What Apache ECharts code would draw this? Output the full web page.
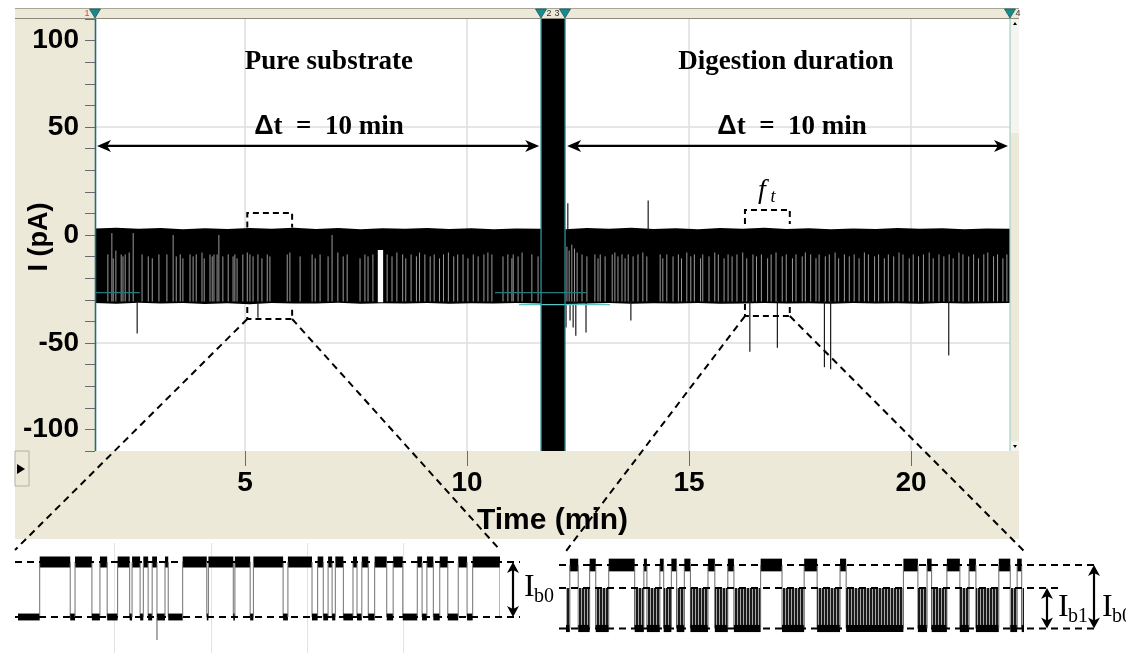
<!DOCTYPE html>
<html>
<head>
<meta charset="utf-8">
<title>Current trace before and during digestion</title>
<script src="https://cdn.jsdelivr.net/npm/echarts@6/dist/echarts.min.js"></script>
<style>
  html, body { margin: 0; padding: 0; background: #ffffff; }
  #chart { width: 1126px; height: 653px; }
</style>
</head>
<body>
<div id="chart"></div>
<script>
// ---------------- recording data ----------------
const timeRange = [1.62, 22.23];                 // min
const yStep = 200 / 18;                          // pA per minor tick
const yTickLabels = [[9, '100'], [5, '50'], [0, '0'], [-5, '-50'], [-9, '-100']];
const xMinorTicks = [2, 3, 4, 5, 6, 7, 8, 9, 10, 11, 12, 13, 14, 15, 16, 17, 18, 19, 20, 21, 22];
const xLabelTicks = [5, 10, 15, 20];

const cursorTimes = [1.62, 11.67, 12.21, 22.23];
const cursorNames = ['1', '2', '3', '4'];
const cursorColors = ['#1f6e72', '#2b8f94', '#2b8f94', '#9fd4d6'];

// current envelope [time, upper edge, lower edge] (pA)
const substrateEnvelope = [
  [1.62, 3.3, -35.0], [2.1, 3.7, -35.4], [2.6, 3.2, -34.8], [3.1, 3.6, -35.3], [3.6, 3.0, -35.0],
  [4.1, 3.5, -35.5], [4.6, 3.1, -35.1], [5.1, 3.6, -35.6], [5.6, 3.2, -35.0], [6.1, 3.7, -35.3],
  [6.6, 3.1, -35.2], [7.1, 3.6, -34.9], [7.6, 3.0, -35.4], [8.1, 3.5, -35.1], [8.6, 3.2, -35.3],
  [9.1, 3.6, -35.0], [9.6, 3.1, -35.4], [10.1, 3.5, -35.1], [10.6, 3.0, -35.3], [11.1, 3.4, -35.0],
  [11.67, 3.2, -35.2]
];
const digestionEnvelope = [
  [12.21, 3.0, -35.5], [12.7, 3.6, -35.2], [13.2, 3.2, -35.0], [13.7, 3.7, -35.4], [14.2, 3.1, -35.1],
  [14.7, 3.5, -35.3], [15.2, 3.0, -35.0], [15.7, 3.6, -35.4], [16.2, 3.2, -35.2], [16.7, 3.7, -35.0],
  [17.2, 3.1, -35.3], [17.7, 3.5, -35.1], [18.2, 3.0, -35.4], [18.7, 3.4, -35.0], [19.2, 3.1, -35.3],
  [19.7, 3.6, -35.1], [20.2, 3.2, -35.4], [20.7, 3.5, -35.0], [21.2, 3.0, -35.3], [21.7, 3.4, -35.1],
  [22.23, 3.2, -35.0]
];

// solution exchange, amplifier saturated
const exchangeWindow = [11.67, 12.21];
const exchangeSwing = [-400, 400];

// returns to the open level inside the blocked band [time, upper end]
const substrateOpenings = [
  [1.91, -10], [2.00, 1], [2.03, -12], [2.09, -8], [2.21, -10], [2.25, -11], [2.30, -10], [2.39, -9],
  [2.48, 1], [2.68, -10], [2.82, -11], [2.91, -12], [3.06, -10], [3.24, -10], [3.38, 0],
  [3.45, -11], [3.54, -10], [3.60, -12], [3.76, -10], [3.83, -11], [3.90, -10], [4.03, -9],
  [4.08, -12], [4.21, -10], [4.26, -11], [4.30, -10], [4.37, -10], [4.41, 0], [4.50, -11],
  [4.62, -10], [4.73, -11], [4.77, -10], [4.82, -12], [4.95, -10], [5.05, -9], [5.11, -10],
  [5.18, -11], [5.29, -10], [5.38, -12], [5.50, -10], [5.56, -11], [5.95, -10], [6.01, -9],
  [6.24, -11], [6.51, -10], [6.58, -12], [6.69, -10], [6.87, -11], [6.96, 0], [7.09, -9],
  [7.21, -11], [7.30, -10], [7.59, -12], [7.70, -10], [7.77, -11], [7.88, -10], [8.20, -10],
  [8.31, -11], [8.42, -9], [8.55, -10], [8.62, -12], [8.74, -10], [8.86, -11], [8.93, -9],
  [9.05, -10], [9.17, -11], [9.26, -10], [9.38, -12], [9.47, -10], [9.58, -9], [9.70, -11],
  [9.79, -10], [9.91, -10], [10.02, -12], [10.14, -10], [10.25, -11], [10.38, -10], [10.47, -9],
  [10.56, -10], [10.81, -11], [10.92, -10], [11.01, -12],
  [11.04, -10], [11.15, -11], [11.24, -9], [11.46, -10], [11.60, -11]
];
const digestionOpenings = [
  [12.25, -6], [12.30, -8], [12.36, -5], [12.42, -7], [12.48, -9], [12.59, -10], [12.70, -11],
  [12.88, -10], [12.95, -12], [13.00, -10], [13.11, -11], [13.27, -10], [13.33, -9],
  [13.40, -11], [13.49, -10], [13.56, -12], [13.63, -10], [13.74, -11], [13.85, -10],
  [13.96, -9], [14.05, -11], [14.35, -10], [14.41, -12], [14.50, -10], [14.64, -11],
  [14.76, -10], [14.83, -12], [14.95, -9], [15.04, -11], [15.12, -10], [15.26, -12], [15.31, -10],
  [15.45, -11], [15.58, -9], [15.66, -10], [15.79, -12], [15.88, -10], [15.97, -11], [16.08, -10],
  [16.21, -9], [16.30, -12], [16.44, -10], [16.52, -11], [16.63, -10], [16.77, -12], [16.85, -10],
  [16.96, -9], [17.10, -11], [17.19, -10], [17.33, -12], [17.41, -10], [17.55, -11], [17.62, -9],
  [17.74, -10], [17.86, -12], [17.93, -10], [18.07, -11], [18.16, -10], [18.29, -9], [18.37, -12],
  [18.50, -10], [18.61, -11], [18.72, -10], [18.83, -12], [18.95, -9], [19.04, -10], [19.18, -11],
  [19.27, -10], [19.40, -12], [19.49, -10], [19.61, -11], [19.73, -9], [19.82, -10], [19.96, -12],
  [20.05, -10], [20.17, -11], [20.28, -10], [20.41, -9], [20.50, -12], [20.63, -10], [20.74, -11],
  [20.86, -10], [20.95, -12], [21.08, -9], [21.17, -10], [21.30, -11], [21.41, -10], [21.52, -12],
  [21.64, -10], [21.73, -9], [21.86, -11], [21.95, -10], [22.07, -12], [22.16, -10]
];
// long open dwell [from, to, lowest excursion]
const substrateOpenDwells = [[7.99, 8.11, -7.7]];

// isolated excursions beyond the band [time, peak]
const spikes = [
  [2.57, -50.7], [5.29, -42.6],
  [12.23, -47.6], [12.27, 16.3], [12.32, -44.0], [12.39, -47.6], [12.45, -51.8],
  [12.68, -50.2], [13.69, -44.0], [14.08, 17.8],
  [16.37, -60.0], [16.99, -58.0], [18.05, -68.0], [18.19, -69.0], [20.85, -62.0]
];

// baseline cursors [from, to, level]
const baselineCursors = [[1.62, 2.63, -29.6], [10.63, 12.68, -29.6], [11.17, 13.22, -35.8]];

// windows shown enlarged below [from, to] (min)
const zoomWindows = [[5.05, 6.06], [16.26, 17.27]];
// bracket limits [top outer, top inner, bottom inner, bottom outer] (pA)
const bracketLevels = [[11.3, 3.9, -37.1, -43.2], [12.9, 5.7, -35.5, -41.7]];

// enlarged windows: time in s from window start
const insetSpan = [0, 60];
// pure substrate: open (I0) and blocked (Ib0) levels [level, noise half-width]
const substrateLevels = { open: [0, 3.2], blocked: [-32, 2.0] };
const substrateOpenDwellsZoom = [
  [2.7, 6.5], [7.1, 9.2], [10.2, 11.1], [12.4, 13.9], [14.2, 15.2], [15.6, 16.2],
  [16.7, 17.3], [18.3, 18.7], [20.5, 23.5], [23.7, 26.8], [27.0, 28.9], [29.3, 33.0],
  [33.6, 36.6], [37.3, 38.0], [38.6, 39.1], [39.5, 40.5], [41.7, 42.2], [42.8, 43.6],
  [44.4, 45.9], [46.7, 47.9], [49.7, 50.3], [50.9, 51.7], [52.5, 53.5], [54.8, 55.9], [56.6, 60]
];
const substrateZoomSpikes = [[17.3, -45.4]];
// digestion: open, partial (Ib1) and full (Ib0) block levels
const digestionLevels = { open: [0, 3.2], partial: [-11.6, 0], blocked: [-32, 1.8] };
const digestionOpenDwellsZoom = [
  [0.5, 1.6], [3.1, 3.9], [5.6, 9.0], [10.2, 10.6], [12.3, 12.8], [13.8, 14.5], [15.5, 16.3],
  [18.6, 19.5], [21.2, 22.0], [25.5, 28.3], [31.2, 32.9], [35.9, 36.7], [44.2, 46.1],
  [47.3, 47.9], [49.9, 51.6], [52.8, 53.7], [56.7, 58.2], [59.1, 59.7]
];

// ---------------- helpers ----------------
const SANS = 'Liberation Sans, Arial, sans-serif';
const SERIF = 'Liberation Serif, Times New Roman, serif';

function dwellItems(openList, span) {
  // open dwells (kind 0) and the blocked stretches between them (kind 1)
  const items = [];
  let t = span[0];
  openList.forEach(([a, b]) => {
    if (a > t) items.push([t, a, 1]);
    items.push([a, b, 0]);
    t = b;
  });
  if (t < span[1]) items.push([t, span[1], 1]);
  return items;
}
function lineEl(p0, p1, color, width) {
  return { type: 'line', shape: { x1: p0[0], y1: p0[1], x2: p1[0], y2: p1[1] },
           style: { stroke: color, lineWidth: width } };
}
// vertical hatching for fast flicker between the partial and full block levels
const flickerCanvas = document.createElement('canvas');
flickerCanvas.width = 3; flickerCanvas.height = 4;
{
  const c = flickerCanvas.getContext('2d');
  c.fillStyle = '#a8a8a8'; c.fillRect(0, 0, 3, 4);
  c.fillStyle = '#1a1a1a'; c.fillRect(0, 0, 2, 4);
}
const flickerFill = { image: flickerCanvas, repeat: 'repeat' };

// ---------------- chart ----------------
const chart = echarts.init(document.getElementById('chart'), null, { renderer: 'canvas' });

const yLabelOf = v => {
  const k = Math.round(v / yStep);
  const hit = yTickLabels.find(p => p[0] === k);
  return hit ? hit[1] : '';
};
const envelopes = [substrateEnvelope, digestionEnvelope];

const option = {
  animation: false,
  backgroundColor: '#ffffff',
  grid: [
    { left: 95, top: 19, width: 915, height: 432, show: false, containLabel: false, outerBoundsMode: 'none' },
    { left: 18, top: 543, width: 482, height: 110, show: false, containLabel: false, outerBoundsMode: 'none' },
    { left: 566, top: 543, width: 458, height: 110, show: false, containLabel: false, outerBoundsMode: 'none' }
  ],
  xAxis: [
    { gridIndex: 0, type: 'value', min: timeRange[0], max: timeRange[1], position: 'bottom',
      axisLine: { show: false }, splitLine: { show: false },
      axisTick: { show: true, length: 10, customValues: xMinorTicks, lineStyle: { color: '#6b6b6b', width: 1 } },
      axisLabel: { show: false },
      name: 'Time (min)', nameLocation: 'middle', nameGap: 55,
      nameTextStyle: { fontFamily: SANS, fontWeight: 'bold', fontSize: 30, color: '#000' } },
    { gridIndex: 0, type: 'value', min: timeRange[0], max: timeRange[1], position: 'bottom', offset: 0,
      axisLine: { show: false }, splitLine: { show: false },
      axisTick: { show: true, length: 15, customValues: xLabelTicks, lineStyle: { color: '#6b6b6b', width: 1 } },
      axisLabel: { show: true, customValues: xLabelTicks, margin: 18, fontFamily: SANS,
                   fontWeight: 'bold', fontSize: 28, color: '#000' } },
    { gridIndex: 1, type: 'value', min: insetSpan[0], max: insetSpan[1], interval: 12, show: true,
      axisLine: { show: false }, axisTick: { show: false }, axisLabel: { show: false },
      splitLine: { show: true, showMinLine: false, showMaxLine: false, lineStyle: { color: '#e3e3e3', width: 1 } } },
    { gridIndex: 2, type: 'value', min: insetSpan[0], max: insetSpan[1], show: false, splitLine: { show: false } }
  ],
  yAxis: [
    { gridIndex: 0, type: 'value', min: -10 * yStep, max: 10 * yStep, interval: yStep,
      axisLine: { show: false }, splitLine: { show: false },
      axisTick: { show: true, length: 10, lineStyle: { color: '#6b6b6b', width: 1 } },
      axisLabel: { formatter: yLabelOf, margin: 16, fontFamily: SANS, fontWeight: 'bold',
                   fontSize: 28, color: '#000' } },
    { gridIndex: 1, type: 'value', min: -52.95, max: 11.05, show: false, splitLine: { show: false } },
    { gridIndex: 2, type: 'value', min: -44.35, max: 11.09, show: false, splitLine: { show: false } }
  ],
  series: [
    // light grid lines of the recording window
    {
      type: 'custom', name: 'grid', xAxisIndex: 0, yAxisIndex: 0, z: 1, silent: true,
      data: xLabelTicks.map(t => [t, 0]).concat([[null, 5 * yStep], [null, -5 * yStep]]),
      renderItem(params, api) {
        const t = api.value(0);
        if (t !== null && !isNaN(t)) {
          const a = api.coord([t, 10 * yStep]), b = api.coord([t, -10 * yStep]);
          return lineEl(a, b, '#dedede', 1.5);
        }
        const v = api.value(1);
        const a = api.coord([timeRange[0], v]), b = api.coord([timeRange[1], v]);
        return lineEl(a, b, '#dedede', 1.5);
      }
    },
    // blocked band: polygon along the upper and lower envelope
    {
      type: 'custom', name: 'current', xAxisIndex: 0, yAxisIndex: 0, z: 3, clip: true,
      data: envelopes.map(env => [env[0][0], env[env.length - 1][0]]),
      renderItem(params, api) {
        const env = envelopes[params.dataIndex];
        const upper = env.map(p => api.coord([p[0], p[1]]));
        const lower = env.slice().reverse().map(p => api.coord([p[0], p[2]]));
        return { type: 'polygon', shape: { points: upper.concat(lower) }, style: { fill: '#000' } };
      }
    },
    // open-level returns
    {
      type: 'custom', name: 'openings', xAxisIndex: 0, yAxisIndex: 0, z: 4, clip: true,
      data: substrateOpenings.concat(digestionOpenings),
      renderItem(params, api) {
        const a = api.coord([api.value(0), api.value(1)]);
        const b = api.coord([api.value(0), -34.2]);
        return lineEl(a, b, '#9a9a9a', 1);
      }
    },
    {
      type: 'custom', name: 'open dwell', xAxisIndex: 0, yAxisIndex: 0, z: 4, clip: true,
      data: substrateOpenDwells,
      renderItem(params, api) {
        const a = api.coord([api.value(0), api.value(2)]);
        const b = api.coord([api.value(1), -34.6]);
        return { type: 'rect', shape: { x: a[0], y: a[1], width: b[0] - a[0], height: b[1] - a[1] },
                 style: { fill: '#ffffff' } };
      }
    },
    // excursions
    {
      type: 'custom', name: 'spikes', xAxisIndex: 0, yAxisIndex: 0, z: 4, clip: true,
      data: spikes,
      renderItem(params, api) {
        const v = api.value(1);
        const a = api.coord([api.value(0), v < 0 ? -34 : 2.5]);
        const b = api.coord([api.value(0), v]);
        return lineEl(a, b, '#1a1a1a', 1.2);
      }
    },
    // solution exchange
    {
      type: 'custom', name: 'exchange', xAxisIndex: 0, yAxisIndex: 0, z: 5, clip: true,
      data: [[exchangeWindow[0], exchangeWindow[1], exchangeSwing[1], exchangeSwing[0]]],
      renderItem(params, api) {
        const a = api.coord([api.value(0), api.value(2)]);
        const b = api.coord([api.value(1), api.value(3)]);
        return { type: 'rect', shape: { x: a[0], y: a[1], width: b[0] - a[0], height: b[1] - a[1] },
                 style: { fill: '#000' } };
      }
    },
    // baseline cursors
    {
      type: 'custom', name: 'baselines', xAxisIndex: 0, yAxisIndex: 0, z: 6, clip: true,
      data: baselineCursors,
      renderItem(params, api) {
        const a = api.coord([api.value(0), api.value(2)]);
        const b = api.coord([api.value(1), api.value(2)]);
        return lineEl(a, b, params.dataIndex < 2 ? '#237a7d' : '#5cc3c6', 1.2);
      }
    },
    // time cursors
    {
      type: 'custom', name: 'cursors', xAxisIndex: 0, yAxisIndex: 0, z: 7, clip: false,
      data: cursorTimes.map(t => [t]),
      renderItem(params, api) {
        const a = api.coord([api.value(0), 10 * yStep]);
        const b = api.coord([api.value(0), -10 * yStep]);
        const x = Math.round(a[0]) + (params.dataIndex === 0 ? 0.5 : 0);
        return lineEl([x, a[1]], [x, b[1]], cursorColors[params.dataIndex], params.dataIndex === 0 ? 1.6 : 1.2);
      }
    },
    // enlarged window: pure substrate
    {
      type: 'custom', name: 'substrate zoom', xAxisIndex: 2, yAxisIndex: 1, z: 5, clip: true,
      data: dwellItems(substrateOpenDwellsZoom, insetSpan),
      renderItem(params, api) {
        const s0 = api.value(0), s1 = api.value(1), kind = api.value(2);
        const lv = kind === 0 ? substrateLevels.open : substrateLevels.blocked;
        const a = api.coord([s0, lv[0] + lv[1]]), b = api.coord([s1, lv[0] - lv[1]]);
        const children = [{ type: 'rect', shape: { x: a[0], y: a[1], width: Math.max(b[0] - a[0], 0.8), height: b[1] - a[1] },
                            style: { fill: '#000' } }];
        if (kind === 0) {
          const top = api.coord([s0, substrateLevels.open[0]]);
          const bot = api.coord([s0, substrateLevels.blocked[0]]);
          const top2 = api.coord([s1, substrateLevels.open[0]]);
          children.push(lineEl(top, bot, '#707070', 1));
          children.push(lineEl(top2, [top2[0], bot[1]], '#707070', 1));
        }
        return { type: 'group', children };
      }
    },
    {
      type: 'custom', name: 'substrate zoom spikes', xAxisIndex: 2, yAxisIndex: 1, z: 5, clip: true,
      data: substrateZoomSpikes,
      renderItem(params, api) {
        const a = api.coord([api.value(0), substrateLevels.blocked[0]]);
        const b = api.coord([api.value(0), api.value(1)]);
        return lineEl(a, b, '#555', 1);
      }
    },
    // enlarged window: digestion
    {
      type: 'custom', name: 'digestion zoom', xAxisIndex: 3, yAxisIndex: 2, z: 5, clip: true,
      data: dwellItems(digestionOpenDwellsZoom, insetSpan),
      renderItem(params, api) {
        const s0 = api.value(0), s1 = api.value(1), kind = api.value(2);
        const L = digestionLevels;
        const children = [];
        if (kind === 0) {
          const a = api.coord([s0, L.open[0] + L.open[1]]), b = api.coord([s1, L.open[0] - L.open[1]]);
          children.push({ type: 'rect', shape: { x: a[0], y: a[1], width: Math.max(b[0] - a[0], 0.8), height: b[1] - a[1] },
                          style: { fill: '#000' } });
          const top = api.coord([s0, L.open[0]]), bot = api.coord([s0, L.blocked[0]]);
          const top2 = api.coord([s1, L.open[0]]);
          children.push(lineEl(top, bot, '#6a6a6a', 1));
          children.push(lineEl(top2, [top2[0], bot[1]], '#6a6a6a', 1));
        } else {
          const m = api.coord([s0, L.partial[0]]), e = api.coord([s1, L.blocked[0]]);
          children.push({ type: 'rect', shape: { x: m[0], y: m[1], width: e[0] - m[0], height: e[1] - m[1] },
                          style: { fill: flickerFill } });
          const a = api.coord([s0, L.blocked[0] + L.blocked[1]]), b = api.coord([s1, L.blocked[0] - L.blocked[1]]);
          children.push({ type: 'rect', shape: { x: a[0], y: a[1], width: b[0] - a[0], height: b[1] - a[1] },
                          style: { fill: '#000' } });
        }
        return { type: 'group', children };
      }
    }
  ]
};

chart.setOption(option);

// ---------------- annotations in data coordinates ----------------
const P = p => chart.convertToPixel({ xAxisIndex: 0, yAxisIndex: 0 }, p);
const P1 = p => chart.convertToPixel({ xAxisIndex: 2, yAxisIndex: 1 }, p);
const P2 = p => chart.convertToPixel({ xAxisIndex: 3, yAxisIndex: 2 }, p);

function head(tip, dx, dy, len, half) {
  // notched arrow head pointing along (dx, dy)
  const nx = -dy, ny = dx;
  const bx = tip[0] - dx * len, by = tip[1] - dy * len;
  return { type: 'polygon', z: 120,
    shape: { points: [tip, [bx + nx * half, by + ny * half], [tip[0] - dx * len * 0.72, tip[1] - dy * len * 0.72],
                      [bx - nx * half, by - ny * half]] },
    style: { fill: '#000' } };
}
function hArrow(x0, x1, y) {
  return [
    Object.assign(lineEl([x0 + 6, y], [x1 - 6, y], '#000', 2.2), { z: 119 }),
    head([x0, y], -1, 0, 14, 6), head([x1, y], 1, 0, 14, 6)
  ];
}
function vArrow(x, y0, y1) {
  return [
    Object.assign(lineEl([x, y0 + 5], [x, y1 - 5], '#000', 2.2), { z: 119 }),
    head([x, y0], 0, -1, 11, 6), head([x, y1], 0, 1, 11, 6)
  ];
}
function dashed(points, width, dash) {
  return { type: 'polyline', z: 118, shape: { points },
           style: { stroke: '#000', lineWidth: width, lineDash: dash, fill: null } };
}
function text(x, y, str, font, opts) {
  return Object.assign({ type: 'text', z: 125, x, y,
    style: Object.assign({ text: str, font, fill: '#000', align: 'center', verticalAlign: 'middle' }, opts || {}) });
}

const g = [];
// frame of the acquisition window
g.push({ type: 'rect', z: -20, shape: { x: 15, y: 8, width: 1004, height: 531 }, style: { fill: '#ECE9D8' } });
g.push({ type: 'rect', z: -19, shape: { x: 95, y: 19, width: 915, height: 432 }, style: { fill: '#ffffff' } });
g.push(Object.assign(lineEl([15, 8.5], [1019, 8.5], '#a9a697', 1), { z: -18 }));
g.push(Object.assign(lineEl([15, 18.5], [1019, 18.5], '#8c897c', 1), { z: -18 }));
// scroll bar at the right edge
g.push({ type: 'rect', z: -18, shape: { x: 1011, y: 19, width: 8, height: 114 }, style: { fill: '#F5F4EF' } });
g.push({ type: 'rect', z: -18, shape: { x: 1011, y: 441, width: 8, height: 10 }, style: { fill: '#F5F4EF' } });
g.push({ type: 'polygon', z: -17, shape: { points: [[1013, 25], [1017, 25], [1015, 22]] }, style: { fill: '#000' } });
g.push({ type: 'polygon', z: -17, shape: { points: [[1013, 445], [1017, 445], [1015, 448]] }, style: { fill: '#000' } });
// scroll button at the lower left
g.push({ type: 'rect', z: -18, shape: { x: 15, y: 451, width: 14, height: 35 },
         style: { fill: '#ECE9D8', stroke: '#b4b1a3', lineWidth: 1 } });
g.push({ type: 'polygon', z: -17, shape: { points: [[17, 464], [25, 469], [17, 474]] }, style: { fill: '#000' } });

// current axis title
{
  const c = P([timeRange[0], -1])[1];
  g.push({ type: 'text', z: 125, x: 40, y: c, rotation: Math.PI / 2,
           style: { text: 'I (pA)', font: 'bold 27px ' + SANS, fill: '#000', align: 'center', verticalAlign: 'middle' } });
}

// cursor flags on the top bar
cursorTimes.forEach((t, i) => {
  const x = Math.round(P([t, 0])[0]);
  g.push({ type: 'polygon', z: 130, shape: { points: [[x - 5.5, 9], [x + 5.5, 9], [x, 18]] },
           style: { fill: '#188a8e', stroke: '#0e5d61', lineWidth: 0.8 } });
  const left = i === 0 || i === 2;
  g.push(text(left ? x - 8 : x + 8, 13.5, cursorNames[i], '9px ' + SANS,
              { fill: i === 0 ? '#e23b3b' : '#333' }));
});

// period titles and durations
const titleY = 89, dtY = 55.6, arrowY = 45.8;
g.push(text(P([6.89, titleY])[0], P([6.89, titleY])[1], 'Pure substrate', 'bold 27px ' + SERIF));
g.push(text(P([17.18, titleY])[0], P([17.18, titleY])[1], 'Digestion duration', 'bold 27px ' + SERIF));
[6.89, 17.32].forEach(t => {
  const p = P([t, dtY]);
  g.push({ type: 'text', z: 125, x: p[0], y: p[1],
    style: { text: '{d|Δ}{r|t  =  10 min}', align: 'center', verticalAlign: 'middle',
      rich: { d: { font: 'bold 27px ' + SANS, fill: '#000' }, r: { font: 'bold 27px ' + SERIF, fill: '#000' } } } });
});
[[timeRange[0], exchangeWindow[0]], [exchangeWindow[1], timeRange[1]]].forEach(([a, b]) => {
  const pa = P([a, arrowY]), pb = P([b, arrowY]);
  hArrow(pa[0] + 2, pb[0] - 2, pa[1]).forEach(e => g.push(e));
});

// dashed brackets around the enlarged windows and the guide lines
const insetAnchor = 7;
zoomWindows.forEach((w, i) => {
  const L = bracketLevels[i];
  const tl = P([w[0], L[0]]), ti = P([w[0], L[1]]), tr = P([w[1], L[0]]), tri = P([w[1], L[1]]);
  const bl = P([w[0], L[3]]), bi = P([w[0], L[2]]), br = P([w[1], L[3]]), bri = P([w[1], L[2]]);
  g.push(dashed([ti, tl, tr, tri], 2, [6, 4]));
  g.push(dashed([bi, bl, br, bri], 2, [6, 4]));
  const Pi = i === 0 ? P1 : P2;
  const c0 = Pi([insetSpan[0], insetAnchor]), c1 = Pi([insetSpan[1], insetAnchor]);
  g.push(dashed([bl, [c0[0] - (i === 0 ? 3 : 0), c0[1]]], 2, [7, 5]));
  g.push(dashed([br, c1], 2, [7, 5]));
});
// frequency label
{
  const p = P([16.71, 22.9]);
  g.push(text(p[0] - 3, p[1], 'f', 'italic 28px ' + SERIF));
  g.push(text(p[0] + 8, p[1] + 7, 't', 'italic 18px ' + SERIF));
}

// level guides and current-drop arrows in the enlarged windows
{
  const o = P1([insetSpan[0], substrateLevels.open[0]]), b = P1([insetSpan[0], substrateLevels.blocked[0]]);
  const right = P1([insetSpan[1], 0])[0];
  g.push(dashed([[o[0] - 3, o[1]], [right + 20, o[1]]], 2, [7, 5]));
  g.push(dashed([[b[0] - 3, b[1]], [right + 20, b[1]]], 2, [7, 5]));
  vArrow(right + 13, o[1], b[1]).forEach(e => g.push(e));
  g.push(text(right + 24, (o[1] + b[1]) / 2 - 2, 'I', '32px ' + SERIF, { align: 'left' }));
  g.push(text(right + 34, (o[1] + b[1]) / 2 + 7, 'b0', '20px ' + SERIF, { align: 'left' }));
}
{
  const L = digestionLevels;
  const left = P2([insetSpan[0], 0])[0], right = P2([insetSpan[1], 0])[0];
  const o = P2([0, L.open[0]])[1], m = P2([0, L.partial[0]])[1], b = P2([0, L.blocked[0]])[1];
  g.push(dashed([[left - 7, o], [right + 70, o]], 2, [7, 5]));
  g.push(dashed([[left - 7, m], [right + 39, m]], 2, [7, 5]));
  g.push(dashed([[left - 7, b], [right + 70, b]], 2, [7, 5]));
  vArrow(right + 23, m, b).forEach(e => g.push(e));
  vArrow(right + 70, o, b).forEach(e => g.push(e));
  g.push(text(right + 34, (m + b) / 2 - 1, 'I', '32px ' + SERIF, { align: 'left' }));
  g.push(text(right + 44, (m + b) / 2 + 8, 'b1', '20px ' + SERIF, { align: 'left' }));
  g.push(text(right + 78, (m + b) / 2 - 1, 'I', '32px ' + SERIF, { align: 'left' }));
  g.push(text(right + 88, (m + b) / 2 + 8, 'b0', '20px ' + SERIF, { align: 'left' }));
}

chart.setOption({ graphic: { elements: g } });
</script>
</body>
</html>
